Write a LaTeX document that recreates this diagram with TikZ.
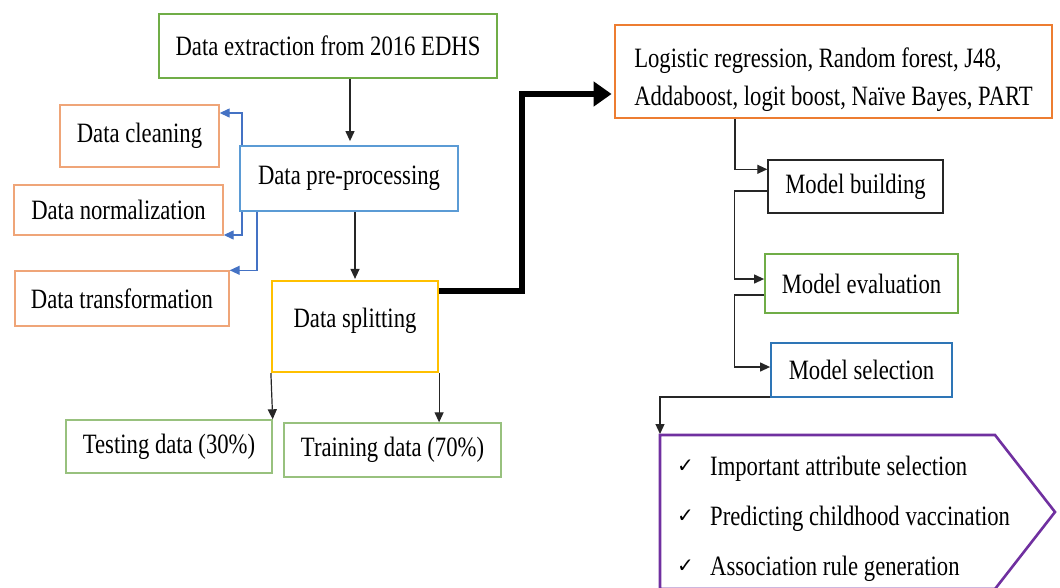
\documentclass[tikz,border=0pt]{standalone}
\usepackage{fontspec}
\setmainfont{Liberation Serif}[FakeStretch=0.81]
\newfontfamily\checkfont{DejaVu Sans}
\usetikzlibrary{arrows.meta}
\definecolor{cgreen}{HTML}{70AD47}
\definecolor{clgreen}{HTML}{98C17E}
\definecolor{cblue}{HTML}{5B9BD5}
\definecolor{cdblue}{HTML}{2E75B6}
\definecolor{carrblue}{HTML}{4472C4}
\definecolor{corange}{HTML}{ED7D31}
\definecolor{clorange}{HTML}{EFA578}
\definecolor{cyellow}{HTML}{FFC000}
\definecolor{cpurple}{HTML}{7030A0}
\tikzset{
  box/.style={draw, line width=1.8pt, inner sep=0pt, align=center,
    font=\fontsize{28}{38}\selectfont},
  txt/.style={inner sep=0pt, font=\fontsize{28}{38}\selectfont},
  arr/.style={draw=black!85, line width=1.2pt, -{Triangle[length=10pt,width=9pt]}},
  barr/.style={draw=carrblue, line width=1.3pt, -{Triangle[length=10pt,width=9pt]}},
  thickarr/.style={draw=black, line width=6pt, -{Triangle[length=18pt,width=24pt]}},
}
\begin{document}
\begin{tikzpicture}[x=1pt,y=-1pt]
\useasboundingbox (0,0) rectangle (1060,587);
\clip (0,0) rectangle (1060,587);
% boxes
\node[box, draw=cgreen, minimum width=338pt, minimum height=64pt] (extract) at (328,46) {Data extraction from 2016 EDHS};
\node[box, draw=cblue, minimum width=218pt, minimum height=65pt] (prep) at (349,178.5) {Data pre-processing};
\node[box, draw=clorange, line width=1.4pt, minimum width=159pt, minimum height=62pt] (clean) at (139.5,136) {Data cleaning};
\node[box, draw=clorange, line width=1.4pt, minimum width=209pt, minimum height=50pt] (norm) at (118.5,210) {Data normalization};
\node[box, draw=clorange, line width=1.4pt, minimum width=214pt, minimum height=55pt] (trans) at (122,298.5) {Data transformation};
\node[box, draw=cyellow, line width=2.2pt, minimum width=166pt, minimum height=91pt] (split) at (355,326.5) {\raisebox{6pt}[\height][\depth]{Data splitting}};
\node[box, draw=clgreen, line width=1.4pt, minimum width=206pt, minimum height=53pt] (test) at (169,446.5) {Testing data (30\%)};
\node[box, draw=clgreen, line width=1.4pt, minimum width=217pt, minimum height=54pt] (train) at (392.5,450) {Training data (70\%)};
\node[box, draw=corange, line width=2.8pt, minimum width=437pt, minimum height=93pt] (algo) at (833.5,71.5) {\raisebox{-7pt}[\height][\depth]{\begin{tabular}{@{}l@{}}Logistic regression, Random forest, J48,\\Addaboost, logit boost, Naïve Bayes, PART\end{tabular}}};
\node[box, draw=black!85, line width=1.4pt, minimum width=175pt, minimum height=53pt] (build) at (855.5,186.5) {Model building};
\node[box, draw=cgreen, minimum width=193pt, minimum height=59pt] (eval) at (861.5,283.5) {Model evaluation};
\node[box, draw=cdblue, minimum width=181pt, minimum height=54pt] (sel) at (861.5,370) {Model selection};
% outcome pentagon
\coordinate (pent) at (660,435);
\draw[draw=cpurple, line width=2.6pt, line join=miter] (pent) -- (995,435) -- (1055,512) -- (995,589) -- (660,589) -- cycle;
\node[txt, anchor=base west] (c1) at (677,472) {\checkfont\fontsize{20}{20}\selectfont ✓};
\node[txt, anchor=base west] (c2) at (677,522) {\checkfont\fontsize{20}{20}\selectfont ✓};
\node[txt, anchor=base west] (c3) at (677,572) {\checkfont\fontsize{20}{20}\selectfont ✓};
\node[txt, anchor=base west] (g1) at (710,475) {Important attribute selection};
\node[txt, anchor=base west] (g2) at (710,525) {Predicting childhood vaccination};
\node[txt, anchor=base west] (g3) at (710,575) {Association rule generation};
% connectors
\draw[arr] ([xshift=22pt]extract.south) -- ([xshift=1pt,yshift=4pt]prep.north);
\draw[arr] (prep.south -| split.north) -- ([yshift=1pt]split.north);
\draw[barr] ([xshift=3pt]prep.north west) |- ([yshift=23pt]clean.east);
\draw[barr] ([xshift=3pt]prep.south west) |- ([yshift=-25pt]norm.east);
\draw[barr] ([xshift=18pt]prep.south west) |- (trans.north east);
\draw[arr] (split.south west) -- (test.north east);
\draw[arr] (split.south east) -- (split.south east |- train.north);
\draw[thickarr] ([yshift=-11pt]split.north east) -- ++(83,0) |- ([xshift=-2pt,yshift=-22.5pt]algo.west);
\draw[arr] ([xshift=-98.5pt]algo.south) |- ([yshift=-10pt]build.north west);
\draw[arr] ([yshift=-4.5pt]build.west) -- ++(-33,0) |- ([yshift=4.5pt]eval.west);
\draw[arr] ([yshift=-11.5pt]eval.west) -- ++(-30,0) |- ([yshift=3pt]sel.west);
\draw[arr] ([yshift=1pt]sel.south west) -| ([yshift=1pt]pent);
\end{tikzpicture}
\end{document}
